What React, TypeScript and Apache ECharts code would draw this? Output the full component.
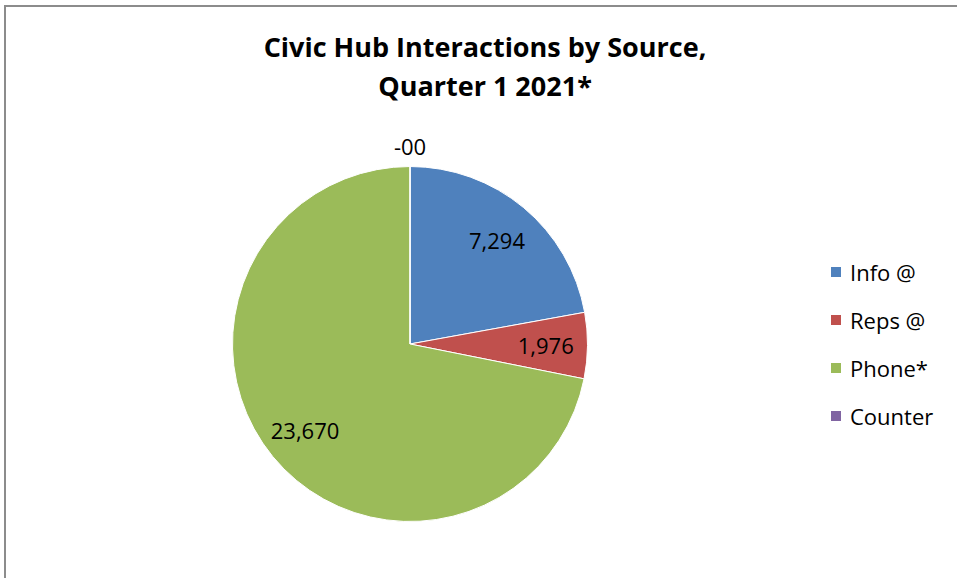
import React, { useEffect, useRef } from "react";
import * as echarts from "echarts";

const categories = ["Info @", "Reps @", "Phone*", "Counter"];
const values = [7294, 1976, 23670, 0];
const colors = ["#4F81BD", "#C0504D", "#9BBB59", "#8064A2"];
const titleLines = ["Civic Hub Interactions by Source,", "Quarter 1 2021*"];

const FONT = "'Open Sans', Lato, sans-serif";

function fmt(v: number): string {
  return v === 0 ? "-00" : v.toLocaleString("en-US");
}

export default function App() {
  const ref = useRef<HTMLDivElement>(null);
  useEffect(() => {
    if (!ref.current) return;
    const chart = echarts.init(ref.current, null, { renderer: "svg" });
    const data = categories.map((name, i) => ({
      name,
      value: values[i],
      itemStyle: { color: colors[i] },
    }));
    chart.setOption({
      animation: false,
      backgroundColor: "#ffffff",
      title: {
        text: titleLines.join("\n"),
        left: 480,
        textAlign: "center",
        top: 22,
        textStyle: {
          fontFamily: FONT,
          fontWeight: "bold",
          fontSize: 27,
          lineHeight: 39,
          color: "#000000",
        },
      },
      legend: {
        orient: "vertical",
        left: 824,
        top: 254,
        itemWidth: 12,
        itemHeight: 12,
        itemGap: 22,
        icon: "rect",
        data: categories,
        textStyle: {
          fontFamily: FONT,
          fontSize: 22,
          lineHeight: 26,
          color: "#000000",
          padding: [0, 0, 0, 3],
        },
      },
      graphic: [
        {
          type: "rect",
          shape: { x: 5, y: 6, width: 1000, height: 1000 },
          style: { fill: "none", stroke: "#8c8c8c", lineWidth: 2 },
          silent: true,
        },
      ],
      series: [
        {
          type: "pie",
          center: [410, 344],
          radius: [0, 177.5],
          startAngle: 90,
          clockwise: true,
          avoidLabelOverlap: false,
          itemStyle: { borderColor: "#ffffff", borderWidth: 1 },
          data: data.map((d, i) => ({
            ...d,
            label:
              values[i] === 0
                ? {
                    show: true,
                    position: "outside",
                    formatter: (p: any) => fmt(p.value),
                    fontFamily: FONT,
                    fontSize: 22,
                    color: "#000000",
                    distanceToLabelLine: 0,
                  }
                : { show: false },
            labelLine: { show: false, length: 10, length2: 0 },
          })),
          labelLayout: (p: any) =>
            p.dataIndex === 3 ? { align: "center", verticalAlign: "bottom" } : {},
          emphasis: { disabled: true },
        },
        {
          type: "pie",
          center: [410, 344],
          radius: [88, 177.5],
          startAngle: 90,
          clockwise: true,
          silent: true,
          avoidLabelOverlap: false,
          itemStyle: { color: "rgba(0,0,0,0)" },
          label: {
            show: true,
            position: "inside",
            formatter: (p: any) => (p.value === 0 ? "" : fmt(p.value)),
            fontFamily: FONT,
            fontSize: 22,
            color: "#000000",
          },
          labelLine: { show: false },
          data: categories.map((name, i) => ({ name: name + " ", value: values[i] })),
          emphasis: { disabled: true },
          tooltip: { show: false },
        },
      ],
    });
    return () => chart.dispose();
  }, []);
  return (
    <div
      ref={ref}
      style={{ width: 957, height: 578, position: "absolute", left: 0, top: 0 }}
    />
  );
}
